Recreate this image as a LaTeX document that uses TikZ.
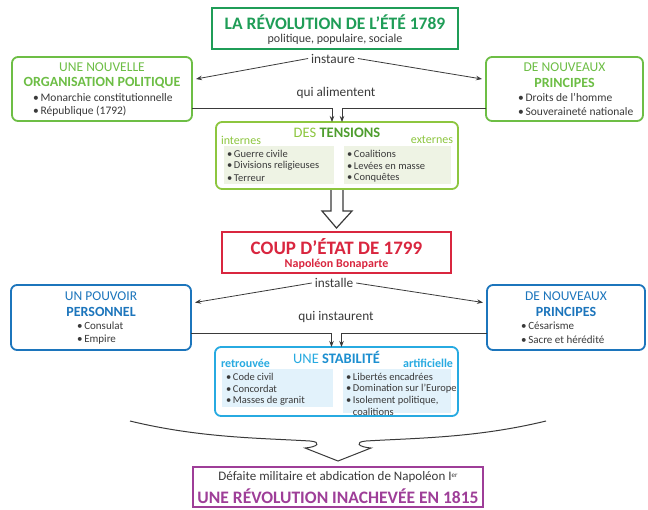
\documentclass[tikz,border=0pt]{standalone}
\usepackage{fontspec}
\setmainfont{Carlito}
\usetikzlibrary{arrows.meta,calc}
\definecolor{topgreen}{HTML}{1F9D57}
\definecolor{lgreen}{HTML}{6DBE45}
\definecolor{tgreen}{HTML}{8DC63F}
\definecolor{tdark}{HTML}{4F9E2F}
\definecolor{pgreen}{HTML}{EEF3E4}
\definecolor{cred}{HTML}{D9263F}
\definecolor{dblue}{HTML}{1C75BC}
\definecolor{cyanb}{HTML}{27AAE1}
\definecolor{cdark}{HTML}{1C8FD0}
\definecolor{pblue}{HTML}{E2F2FB}
\definecolor{cpurple}{HTML}{9E3E98}
\definecolor{txtgray}{HTML}{3A3A3A}
\begin{document}
\begin{tikzpicture}[x=1pt,y=-1pt,
 every node/.style={inner sep=0pt, outer sep=0pt},
 sqbox/.style={draw, line width=1.8pt, fill=white},
 rbox/.style={draw, line width=1.8pt, rounded corners=6pt, fill=white},
 panel/.style={fill=#1, draw=none},
 lab/.style={font=\fontsize{13.3}{14}\selectfont, text=txtgray},
 item/.style={font=\fontsize{10.5}{12}\selectfont, text=txtgray, anchor=west},
 sitem/.style={font=\fontsize{11.5}{12}\selectfont, text=txtgray, anchor=west},
 head/.style={font=\fontsize{13.5}{14}\selectfont, text=#1},
 headb/.style={font=\fontsize{14}{15}\selectfont\bfseries, text=#1},
 arr/.style={-{Stealth[length=6pt,width=4.5pt]}, line width=0.8pt, draw=txtgray},
 hollow/.style={line width=1.2pt, draw=txtgray, fill=white, line join=miter}
]
\useasboundingbox (0,0) rectangle (648,509);

% ---------- top box
\node[sqbox, draw=topgreen, minimum width=246pt, minimum height=41pt] (top) at (335,28.5) {};
\node[font=\fontsize{17.5}{18}\selectfont\bfseries, text=topgreen] (toptitle) at (335,22) {LA RÉVOLUTION DE L’ÉTÉ 1789};
\node[font=\fontsize{12}{13}\selectfont, text=txtgray] (topsub) at (335,39.5) {politique, populaire, sociale};

\node[lab] (instaure) at (333,58.5) {instaure};

% ---------- green side boxes
\node[rbox, draw=lgreen, minimum width=180pt, minimum height=64pt] (lbox) at (102,89) {};
\node[head=lgreen] (lbox1) at (102,67) {UNE NOUVELLE};
\node[headb=lgreen] (lbox2) at (102,82.5) {ORGANISATION POLITIQUE};
\node[sitem] (lbox3) at (33,97.5) {•\,Monarchie constitutionnelle};
\node[sitem] (lbox4) at (33,111.5) {•\,République (1792)};

\node[rbox, draw=lgreen, minimum width=157pt, minimum height=64pt] (rbox) at (564.5,89) {};
\node[head=lgreen] (rbox1) at (564.5,67) {DE NOUVEAUX};
\node[headb=lgreen] (rbox2) at (564.5,82.5) {PRINCIPES};
\node[sitem] (rbox3) at (518,97.5) {•\,Droits de l’homme};
\node[sitem] (rbox4) at (518,111.5) {•\,Souveraineté nationale};

\draw[arr] ([xshift=-3pt]instaure.west) -- ([shift={(4,-10)}]lbox.east);
\draw[arr] ([xshift=3pt]instaure.east) -- ([shift={(-4,-10)}]rbox.west);

\node[lab] (alim) at (336,93) {qui alimentent};

% ---------- tensions
\node[rbox, draw=tgreen, minimum width=242pt, minimum height=67pt] (tens) at (337,155.5) {};
\draw[arr] (lbox.east |- 0,108) -| ([xshift=-5pt]tens.north);
\draw[arr] (rbox.west |- 0,108) -| ([xshift=5pt]tens.north);
\node[font=\fontsize{14.5}{15}\selectfont, text=tgreen] (tenst) at (337,133) {DES \textcolor{tdark}{\bfseries TENSIONS}};
\node[font=\fontsize{12}{12}\selectfont, text=tgreen, anchor=west] (intern) at (221,140) {internes};
\node[font=\fontsize{12}{12}\selectfont, text=tgreen, anchor=east] (extern) at (453,140) {externes};
\node[panel=pgreen, minimum width=110pt, minimum height=38pt] (tpl) at (279,165) {};
\node[panel=pgreen, minimum width=107pt, minimum height=38pt] (tpr) at (397.5,165) {};
\node[item] (t1) at (227,154) {•\,Guerre civile};
\node[item] (t2) at (227,166) {•\,Divisions religieuses};
\node[item] (t3) at (227,178) {•\,Terreur};
\node[item] (t4) at (347,154) {•\,Coalitions};
\node[item] (t5) at (347,166) {•\,Levées en masse};
\node[item] (t6) at (347,178) {•\,Conquêtes};

% ---------- coup d'etat
\node[sqbox, draw=cred, minimum width=229pt, minimum height=41pt] (coup) at (336.5,252.5) {};
\node[font=\fontsize{19}{20}\selectfont\bfseries, text=cred] (coupt) at (336.5,246.5) {COUP D’ÉTAT DE 1799};
\node[font=\fontsize{12}{13}\selectfont\bfseries, text=cred] (coups) at (336.5,264) {Napoléon Bonaparte};

\draw[hollow] ([xshift=-6pt,yshift=-1pt]tens.south) -- ++(0,21) -- ++(-9,0)
   -- ([yshift=4pt]coup.north) -- ($([yshift=-1pt]tens.south)+(15,21)$) -- ++(-9,0) -- ++(0,-21);

\node[lab] (inst) at (334,283) {installe};

% ---------- blue side boxes
\node[rbox, draw=dblue, minimum width=180pt, minimum height=65pt] (bbl) at (101,317.5) {};
\node[head=dblue] (bbl1) at (101,296) {UN POUVOIR};
\node[headb=dblue] (bbl2) at (101,311.5) {PERSONNEL};
\node[sitem, font=\fontsize{11}{12}\selectfont] (bbl3) at (77,326) {•\,Consulat};
\node[sitem, font=\fontsize{11}{12}\selectfont] (bbl4) at (77,340) {•\,Empire};

\node[rbox, draw=dblue, minimum width=158pt, minimum height=65pt] (bbr) at (566,317.5) {};
\node[head=dblue] (bbr1) at (566,296) {DE NOUVEAUX};
\node[headb=dblue] (bbr2) at (566,311.5) {PRINCIPES};
\node[sitem, font=\fontsize{11}{12}\selectfont] (bbr3) at (521,326) {•\,Césarisme};
\node[sitem, font=\fontsize{11}{12}\selectfont] (bbr4) at (521,340) {•\,Sacre et hérédité};

\draw[arr] ([xshift=-3pt]inst.west) -- ([shift={(4,-15)}]bbl.east);
\draw[arr] ([xshift=3pt]inst.east) -- ([shift={(-4,-15)}]bbr.west);

\node[lab] (instr) at (336,317) {qui instaurent};

% ---------- stabilite
\node[rbox, draw=cyanb, minimum width=243pt, minimum height=69pt] (stab) at (336.5,381.5) {};
\draw[arr] (bbl.east |- 0,333) -| ([xshift=-5pt]stab.north);
\draw[arr] (bbr.west |- 0,333) -| ([xshift=5pt]stab.north);
\node[font=\fontsize{14.5}{15}\selectfont, text=cyanb] (stabt) at (336.5,357) {UNE \textcolor{cdark}{\bfseries STABILITÉ}};
\node[font=\fontsize{12}{12}\selectfont\bfseries, text=cyanb, anchor=west] (retr) at (221,363) {retrouvée};
\node[font=\fontsize{12}{12}\selectfont\bfseries, text=cyanb, anchor=east] (artif) at (453,363) {artificielle};
\node[panel=pblue, minimum width=111pt, minimum height=38pt] (spl) at (277.5,388) {};
\node[panel=pblue, minimum width=108pt, minimum height=44pt] (spr) at (397,391) {};
\node[item] (s1) at (226,377) {•\,Code civil};
\node[item] (s2) at (226,389) {•\,Concordat};
\node[item] (s3) at (226,401) {•\,Masses de granit};
\node[item] (s4) at (346,377) {•\,Libertés encadrées};
\node[item] (s5) at (346,389) {•\,Domination sur l’Europe};
\node[item] (s6) at (346,401) {•\,Isolement politique,};
\node[item] (s7) at (346,412) {\phantom{•\,}coalitions};

% ---------- brace arrow
\coordinate (bl) at (130,421);
\coordinate (br) at (546,421);
\coordinate (tip) at (338,461);
\draw[line width=1pt, draw=txtgray, line join=miter] (bl) .. controls (200,438) and (260,438) .. (310,441)
  .. controls (322,442) and (318,447) .. (305,448) -- (tip) -- (371,448)
  .. controls (358,447) and (354,442) .. (366,441) .. controls (416,438) and (476,438) .. (br);

% ---------- bottom box
\node[sqbox, draw=cpurple, minimum width=290pt, minimum height=40pt] (pbox) at (338,487) {};
\node[font=\fontsize{13}{14}\selectfont, text=txtgray] (pb1) at (338,477.5) {Défaite militaire et abdication de Napoléon I{\fontsize{7}{7}\selectfont\raisebox{3.5pt}{er}}};
\node[font=\fontsize{17.5}{18}\selectfont\bfseries, text=cpurple] (pb2) at (338,496) {UNE RÉVOLUTION INACHEVÉE EN 1815};
\end{tikzpicture}
\end{document}
